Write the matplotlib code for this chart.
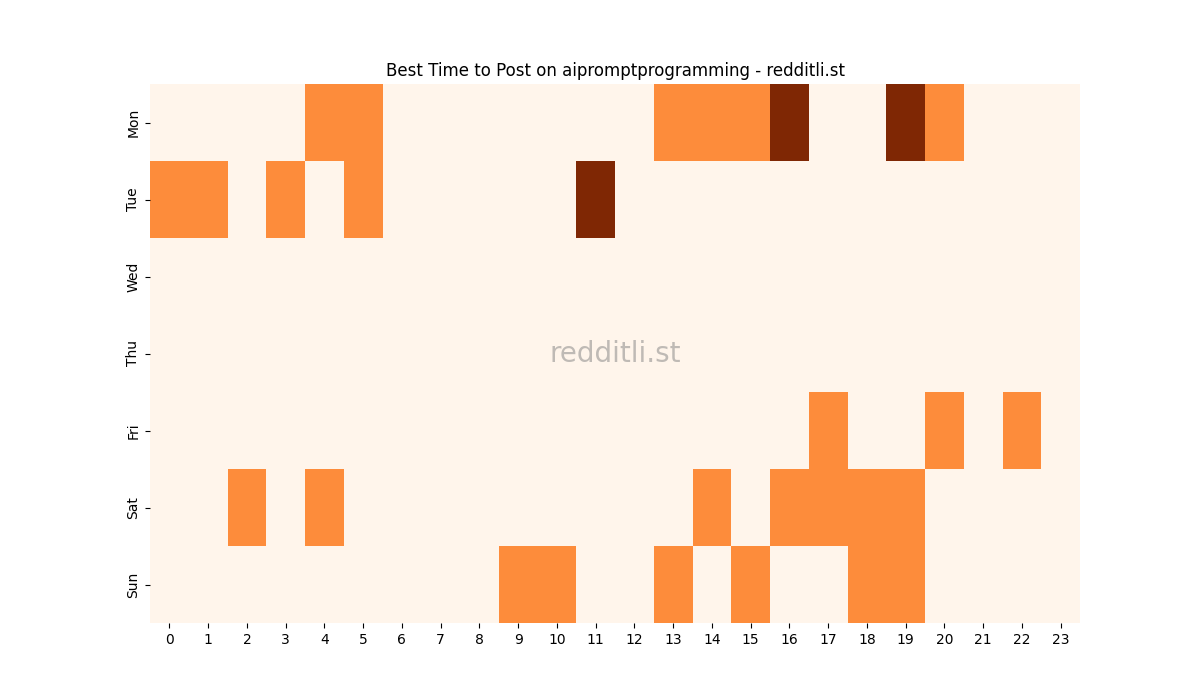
import matplotlib
matplotlib.use("Agg")
import matplotlib.pyplot as plt
import seaborn as sns
import numpy as np
import pandas as pd

days = ["Mon", "Tue", "Wed", "Thu", "Fri", "Sat", "Sun"]
hours = list(range(24))

mon = [0,0,0,0,1,1,0,0,0,0,0,0,0,1,1,1,2,0,0,2,1,0,0,0]
tue = [1,1,0,1,0,1,0,0,0,0,0,2,0,0,0,0,0,0,0,0,0,0,0,0]
wed = [0]*24
thu = [0]*24
fri = [0,0,0,0,0,0,0,0,0,0,0,0,0,0,0,0,0,1,0,0,1,0,1,0]
sat = [0,0,1,0,1,0,0,0,0,0,0,0,0,0,1,0,1,1,1,1,0,0,0,0]
sun = [0,0,0,0,0,0,0,0,0,1,1,0,0,1,0,1,0,0,1,1,0,0,0,0]

df = pd.DataFrame([mon, tue, wed, thu, fri, sat, sun], index=days, columns=hours)

fig, ax = plt.subplots(figsize=(12, 7), dpi=100)
sns.heatmap(df, cmap="Oranges", cbar=False, ax=ax, vmin=0, vmax=2)
ax.set_title("Best Time to Post on aipromptprogramming - redditli.st")
ax.set_xlabel("")
ax.set_ylabel("")
ax.text(0.5, 0.5, "redditli.st", transform=ax.transAxes, ha="center", va="center",
        fontsize=20, color="gray", alpha=0.5)
fig.savefig("out.png")
